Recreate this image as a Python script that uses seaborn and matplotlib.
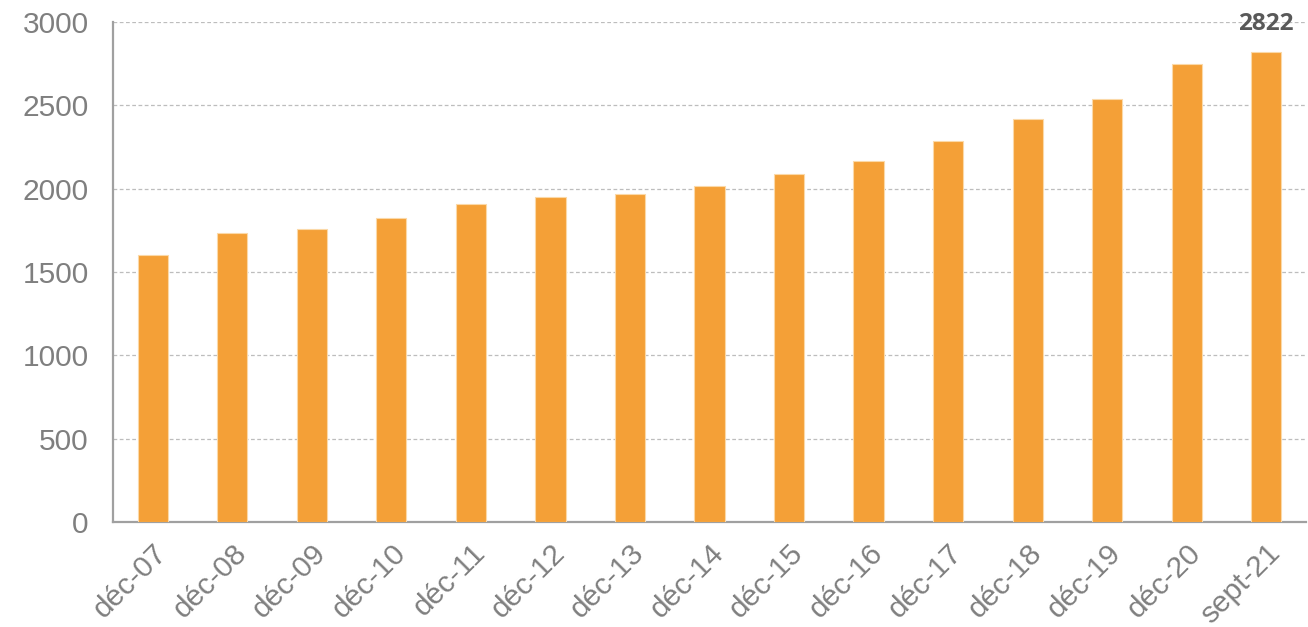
import matplotlib
matplotlib.use("Agg")
import matplotlib.pyplot as plt
import seaborn as sns
import pandas as pd

categories = ["déc-07", "déc-08", "déc-09", "déc-10", "déc-11", "déc-12", "déc-13",
              "déc-14", "déc-15", "déc-16", "déc-17", "déc-18", "déc-19", "déc-20", "sept-21"]
values = [1600, 1732, 1760, 1826, 1910, 1948, 1968, 2016, 2088, 2164, 2286, 2420, 2540, 2750, 2822]
yticks = [0, 500, 1000, 1500, 2000, 2500, 3000]
label_text = "2822"

sns.set_style("white")
plt.rcParams['font.family'] = ['Liberation Sans', 'DejaVu Sans']

df = pd.DataFrame({"cat": categories, "val": values})

fig = plt.figure(figsize=(13.08, 6.27), dpi=100)
ax = fig.add_axes([113/1308, 1 - 522/627, (1306-113)/1308, (522-22)/627])

sns.barplot(data=df, x="cat", y="val", color="#F4A037", saturation=1, width=0.38,
            edgecolor="#FBD9A8", linewidth=0.8, ax=ax, zorder=3)

ax.set_ylim(0, 3000)
ax.set_xlim(-0.5, len(categories) - 0.5)
ax.set_yticks(yticks)
ax.set_yticklabels([str(t) for t in yticks])
ax.yaxis.grid(True, linestyle=(0, (3, 2)), color="#BDBDBD", linewidth=0.9, zorder=0)
ax.set_axisbelow(True)
ax.set_xlabel("")
ax.set_ylabel("")

for s in ["top", "right"]:
    ax.spines[s].set_visible(False)
for s in ["left", "bottom"]:
    ax.spines[s].set_color("#A0A0A0")
    ax.spines[s].set_linewidth(1.6)

ax.tick_params(axis="y", length=0, pad=17.5, labelsize=21.5, labelcolor="#7F7F7F")
ax.tick_params(axis="x", length=0, pad=12, labelsize=21.5, labelcolor="#7F7F7F")
plt.setp(ax.get_xticklabels(), rotation=45, ha="right", rotation_mode="anchor")

ax.text(len(categories) - 1, 2990, label_text, ha="center", va="center",
        fontsize=17.5, fontweight="bold", color="#595959", family=["Open Sans", "DejaVu Sans"],
        clip_on=False, zorder=5)

fig.savefig("out.png", dpi=100)
